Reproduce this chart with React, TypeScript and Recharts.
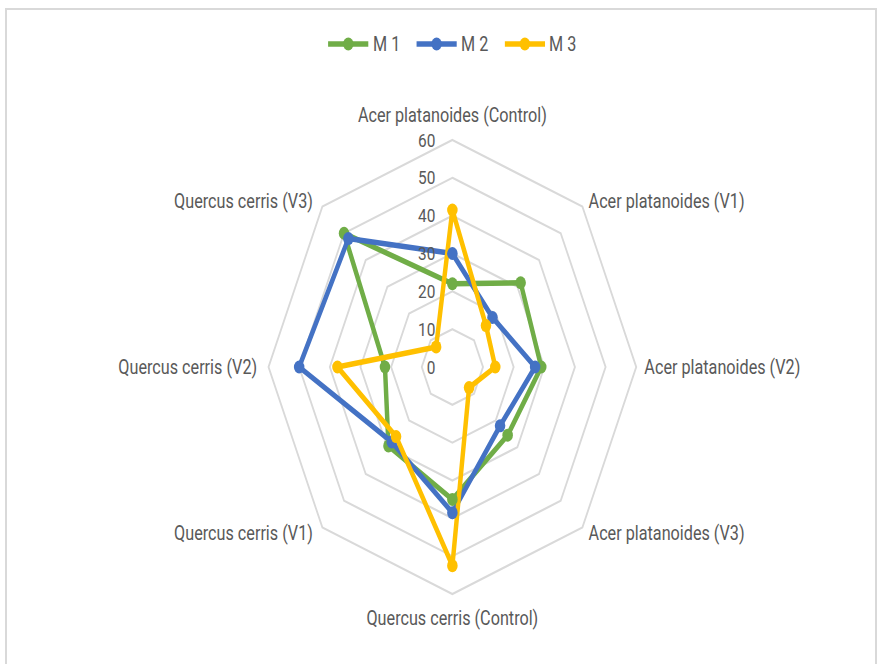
import React from "react";
import {
    RadarChart,
    Radar,
    PolarGrid,
    PolarAngleAxis,
    PolarRadiusAxis,
    Legend,
} from "recharts";

const CATEGORIES = [
    "Acer platanoides (Control)",
    "Acer platanoides (V1)",
    "Acer platanoides (V2)",
    "Acer platanoides (V3)",
    "Quercus cerris (Control)",
    "Quercus cerris (V1)",
    "Quercus cerris (V2)",
    "Quercus cerris (V3)",
];

const M1 = [22, 31.5, 29, 25.5, 35, 29.5, 22, 50];
const M2 = [30, 18.5, 27, 22, 38.5, 28, 50, 48];
const M3 = [41.5, 15.5, 14, 7.7, 52.5, 26, 37.5, 7.5];

const SERIES_NAMES = ["M 1", "M 2", "M 3"];
const RADIUS_MAX = 60;
const RADIUS_TICK_COUNT = 7;

const COLORS = ["#70AD47", "#4472C4", "#FFC000"];
const TEXT = "#595959";
const FONT = "Roboto, 'Open Sans', sans-serif";

// the reference is squeezed horizontally, so the whole chart is drawn wide and scaled back
const SX = 0.81;
const W = 1117;
const H = 664;

const chartData = CATEGORIES.map((name, i) => ({
    name,
    m1: M1[i],
    m2: M2[i],
    m3: M3[i],
}));

function AngleTick(props: any) {
    const { x, y, payload } = props;
    const idx = props.index ?? CATEGORIES.indexOf(payload.value);
    let anchor = "middle";
    let dx = 0;
    let dy = 0;
    if (idx === 0) dy = -17;
    else if (idx === 4) dy = 16;
    else if (idx < 4) {
        anchor = "start";
        dx = 2;
    } else {
        anchor = "end";
        dx = -6;
    }
    return (
        <text
            x={x + dx}
            y={y + dy}
            textAnchor={anchor}
            dominantBaseline="central"
            fill={TEXT}
            fontSize={20}
            fontFamily={FONT}
        >
            {payload.value}
        </text>
    );
}

function RadiusTick(props: any) {
    const { x, y, payload } = props;
    return (
        <text
            x={x - 21}
            y={y}
            textAnchor="end"
            dominantBaseline="central"
            fill={TEXT}
            fontSize={19}
            fontFamily={FONT}
        >
            {payload.value}
        </text>
    );
}

function makeDot(color: string) {
    return (p: any) => (
        <circle key={`${p.dataKey}-${p.index}`} cx={p.cx} cy={p.cy} r={6.5} fill={color} />
    );
}

function LegendContent(props: any) {
    const items = SERIES_NAMES.map((n, i) => ({ value: n, color: COLORS[i] }));
    return (
        <div style={{ display: "flex", justifyContent: "center", alignItems: "center", gap: 20 }}>
            {items.map((it: any) => (
                <div key={it.value} style={{ display: "flex", alignItems: "center" }}>
                    <svg width={50} height={16} style={{ display: "block" }}>
                        <line x1={0} y1={8} x2={50} y2={8} stroke={it.color} strokeWidth={5.5} />
                        <circle cx={25} cy={8} r={6.5} fill={it.color} />
                    </svg>
                    <span
                        style={{
                            marginLeft: 5,
                            fontFamily: FONT,
                            fontSize: 20,
                            color: TEXT,
                            lineHeight: "24px",
                        }}
                    >
                        {it.value}
                    </span>
                </div>
            ))}
        </div>
    );
}

export default function App() {
    return (
        <div
            style={{
                position: "fixed",
                top: 0,
                left: 0,
                width: 885,
                height: 664,
                background: "#fff",
                overflow: "hidden",
            }}
        >
            <div
                style={{
                    position: "absolute",
                    left: 5,
                    top: 8,
                    width: 872,
                    height: 700,
                    border: "2px solid #D9D9D9",
                    boxSizing: "border-box",
                }}
            />
            <div
                style={{
                    position: "absolute",
                    left: 0,
                    top: 0,
                    width: W,
                    height: H,
                    transform: `scaleX(${SX})`,
                    transformOrigin: "0 0",
                }}
            >
                <RadarChart
                    width={W}
                    height={H}
                    data={chartData}
                    cx="50%"
                    cy={367}
                    outerRadius={227}
                    margin={{ top: 0, right: 0, bottom: 0, left: 0 }}
                >
                    <PolarGrid
                        gridType="polygon"
                        radialLines={false}
                        stroke="#D9D9D9"
                        strokeWidth={2.2}
                    />
                    <PolarAngleAxis
                        dataKey="name"
                        tick={<AngleTick />}
                        tickLine={false}
                        axisLine={false}
                    />
                    <PolarRadiusAxis
                        angle={90}
                        domain={[0, RADIUS_MAX]}
                        tickCount={RADIUS_TICK_COUNT}
                        tick={<RadiusTick />}
                        axisLine={false}
                        tickLine={false}
                    />
                    {["m1", "m2", "m3"].map((key, i) => (
                        <Radar
                            key={key}
                            dataKey={key}
                            name={SERIES_NAMES[i]}
                            stroke={COLORS[i]}
                            strokeWidth={5.5}
                            strokeLinejoin="round"
                            fill="none"
                            fillOpacity={0}
                            dot={makeDot(COLORS[i])}
                            isAnimationActive={false}
                        />
                    ))}
                    <Legend
                        verticalAlign="top"
                        content={<LegendContent />}
                        wrapperStyle={{ top: 32, left: 0, width: W }}
                    />
                </RadarChart>
            </div>
        </div>
    );
}
